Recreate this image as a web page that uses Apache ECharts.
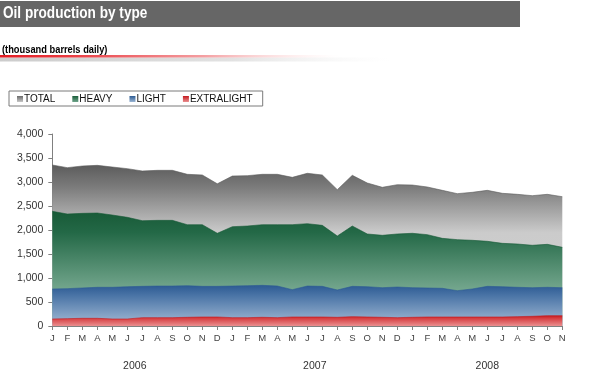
<!DOCTYPE html>
<html>
<head>
<meta charset="utf-8">
<script src="https://cdn.jsdelivr.net/npm/echarts@6/dist/echarts.min.js"></script>
<style>
html,body{margin:0;padding:0;background:#fff;}
#main{width:613px;height:384px;}
</style>
</head>
<body>
<div id="main"></div>
<script>
// ---- data ----
const monthLetters = ['J','F','M','A','M','J','J','A','S','O','N','D'];
const startYear = 2006;
const monthCount = 35; // Jan 2006 .. Nov 2008
const yearLabels = ['2006','2007','2008'];
const yearLabelPositions = [5.5, 17.5, 29];
const yTicks = [0,500,1000,1500,2000,2500,3000,3500,4000];
const titleText = 'Oil production by type';
const subtitleText = '(thousand barrels daily)';

const total = [3354,3299,3333,3347,3312,3278,3229,3243,3243,3160,3146,2962,
               3125,3132,3160,3160,3097,3181,3146,2840,3139,2979,2889,
               2944,2937,2896,2826,2757,2785,2826,2764,2743,2715,2743,2694];
const heavy = [2389,2333,2347,2354,2312,2264,2194,2201,2201,2111,2111,1931,
               2069,2083,2111,2111,2111,2132,2097,1875,2083,1917,1889,
               1917,1931,1903,1826,1799,1785,1764,1722,1708,1681,1701,1639];
const light = [771,778,792,806,806,819,826,833,833,840,826,826,
               833,840,847,833,757,833,826,750,826,819,798,
               812,798,792,785,736,771,826,819,806,798,806,798];
const extralight = [146,153,160,160,146,146,174,174,174,181,188,188,
                    174,174,181,174,188,188,188,181,195,188,181,
                    174,181,188,188,188,188,188,188,195,202,216,216];

const categories = [];
for (let i = 0; i < monthCount; i++) {
  categories.push((startYear + Math.floor(i / 12)) + '-' + String(i % 12 + 1).padStart(2, '0'));
}

const FONT = '"Liberation Sans", Arial, Helvetica, sans-serif';
const G = echarts.graphic.LinearGradient;

const grads = {
  TOTAL: new G(0,0,0,1,[{offset:0,color:'#5c5c5c'},{offset:0.14,color:'#7c7c7c'},{offset:0.42,color:'#cbcbcb'},{offset:1,color:'#d2d2d2'}]),
  HEAVY: new G(0,0,0,1,[{offset:0,color:'#185a37'},{offset:0.18,color:'#236846'},{offset:0.68,color:'#73a68d'},{offset:1,color:'#82b19b'}]),
  LIGHT: new G(0,0,0,1,[{offset:0,color:'#2d5b93'},{offset:0.25,color:'#4a74a6'},{offset:0.85,color:'#93aecd'},{offset:1,color:'#a3bbd6'}]),
  EXTRALIGHT: new G(0,0,0,1,[{offset:0,color:'#c41a1e'},{offset:0.25,color:'#d63d40'},{offset:1,color:'#ea8f90'}])
};
const icons = {
  TOTAL: new G(0,0,0,1,[{offset:0,color:'#6a6a6a'},{offset:1,color:'#c8c8c8'}]),
  HEAVY: new G(0,0,0,1,[{offset:0,color:'#1a5d3a'},{offset:1,color:'#6fa58b'}]),
  LIGHT: new G(0,0,0,1,[{offset:0,color:'#2d5b93'},{offset:1,color:'#9ab5d3'}]),
  EXTRALIGHT: new G(0,0,0,1,[{offset:0,color:'#c41a1e'},{offset:1,color:'#ea8f90'}])
};
const lineColors = {TOTAL:'#5c5c5c', HEAVY:'#185a37', LIGHT:'#2d5b93', EXTRALIGHT:'#c41a1e'};

function mkSeries(name, data) {
  return {
    name: name, type: 'line', data: data,
    xAxisIndex: 0, yAxisIndex: 0,
    showSymbol: false, symbol: 'none',
    lineStyle: {width: 0.6, color: lineColors[name]},
    itemStyle: {color: icons[name]},
    areaStyle: {color: grads[name], opacity: 1},
    emphasis: {disabled: true},
    animation: false
  };
}

const chart = echarts.init(document.getElementById('main'), null, {renderer: 'canvas'});
chart.setOption({
  animation: false,
  backgroundColor: '#ffffff',
  textStyle: {fontFamily: FONT},
  graphic: [
    {type: 'rect', z: -1, shape: {x: 0, y: 1, width: 520, height: 26}, style: {fill: '#666666'}},
    {type: 'text', x: 3, y: 6, scaleX: 0.85, originX: 0,
     style: {text: titleText, fill: '#ffffff', font: 'bold 16px "Liberation Sans", Arial, sans-serif', verticalAlign: 'top', align: 'left'}},
    {type: 'text', x: 2, y: 45.5, scaleX: 0.93, originX: 0,
     style: {text: subtitleText, fill: '#000000', font: 'bold 10px "Liberation Sans", Arial, sans-serif', verticalAlign: 'top', align: 'left'}},
    {type: 'rect', z: -1, shape: {x: 0, y: 57.5, width: 390, height: 4},
     style: {fill: new G(0,0,1,0,[{offset:0,color:'#cccccc'},{offset:0.6,color:'#e2e2e2'},{offset:1,color:'rgba(245,245,245,0)'}])}},
    {type: 'rect', z: -1, shape: {x: 0, y: 55, width: 340, height: 2.6},
     style: {fill: new G(0,0,1,0,[{offset:0,color:'#e41c24'},{offset:0.2,color:'#ea3a40'},{offset:0.6,color:'#f49fa2'},{offset:1,color:'rgba(255,230,230,0)'}])}}
  ],
  legend: {
    left: 9, top: 91,
    orient: 'horizontal',
    padding: [3, 10, 2, 8],
    borderColor: '#7a7a7a', borderWidth: 1,
    itemWidth: 6, itemHeight: 6, itemGap: 17,
    icon: 'rect',
    selectedMode: false,
    textStyle: {fontSize: 10, color: '#111', fontFamily: FONT, padding: [0,0,0,-4]},
    data: ['TOTAL','HEAVY','LIGHT','EXTRALIGHT'].map(n => ({name: n, icon: 'rect', itemStyle: {color: icons[n]}}))
  },
  grid: {left: 52.3, right: 50.7, top: 134, bottom: 58},
  xAxis: [
    {
      type: 'category', data: categories, boundaryGap: false,
      axisLine: {lineStyle: {color: '#808080', width: 1}},
      axisTick: {show: true, length: 4, inside: false, interval: 0, lineStyle: {color: '#808080'}},
      axisLabel: {interval: 0, margin: 7, fontSize: 9.5, color: '#444', fontFamily: FONT,
        formatter: (v) => monthLetters[parseInt(v.split('-')[1], 10) - 1]},
      splitLine: {show: false}
    },
    {
      type: 'value', min: 0, max: monthCount - 1, position: 'bottom', offset: 27,
      axisLine: {show: false}, axisTick: {show: false}, splitLine: {show: false},
      axisLabel: {show: true, margin: 8, fontSize: 10.5, color: '#333', fontFamily: FONT,
        customValues: yearLabelPositions,
        formatter: (v) => { const k = yearLabelPositions.indexOf(v); return k >= 0 ? yearLabels[k] : ''; }}
    }
  ],
  yAxis: {
    type: 'value', min: yTicks[0], max: yTicks[yTicks.length - 1], interval: yTicks[1] - yTicks[0],
    axisLine: {show: true, lineStyle: {color: '#808080', width: 1}},
    axisTick: {show: true, length: 4, lineStyle: {color: '#808080'}},
    axisLabel: {margin: 9, fontSize: 10.5, color: '#333', fontFamily: FONT,
      formatter: (v) => v.toLocaleString('en-US')},
    splitLine: {show: false}
  },
  series: [
    mkSeries('TOTAL', total),
    mkSeries('HEAVY', heavy),
    mkSeries('LIGHT', light),
    mkSeries('EXTRALIGHT', extralight)
  ]
});
</script>
</body>
</html>
